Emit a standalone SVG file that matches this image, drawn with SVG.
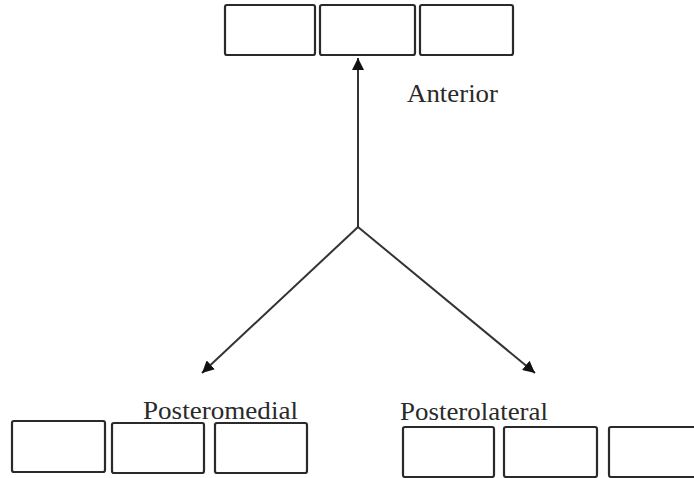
<svg xmlns="http://www.w3.org/2000/svg" width="694" height="478" viewBox="0 0 694 478">
<style>
.box{fill:#fff;stroke:#2a2a2a;stroke-width:2.2}
.lbl{font-family:"Liberation Serif","Times New Roman",serif;font-size:26px;fill:#2a2a2a}
.conn{stroke:#333;stroke-width:2;fill:none}
</style>
<defs>
<marker id="ah" viewBox="0 0 10 10" refX="10" refY="5" markerWidth="6" markerHeight="6" orient="auto" markerUnits="strokeWidth">
<path d="M0,0 L10,5 L0,10 z" fill="#111"/>
</marker>
</defs>
<rect width="694" height="478" fill="#fff"/>
<g id="anterior">
<rect class="box" x="225" y="5" width="90" height="50" rx="2"/>
<rect class="box" x="320" y="5" width="95" height="50" rx="2"/>
<rect class="box" x="420" y="5" width="93" height="50" rx="2"/>
<text class="lbl" x="407" y="102" textLength="91" lengthAdjust="spacingAndGlyphs">Anterior</text>
</g>
<g id="posteromedial">
<rect class="box" x="12" y="421" width="93" height="51" rx="2"/>
<rect class="box" x="112" y="423" width="92" height="50" rx="2"/>
<rect class="box" x="215" y="423" width="92" height="50" rx="2"/>
<text class="lbl" x="143" y="419" textLength="155" lengthAdjust="spacingAndGlyphs">Posteromedial</text>
</g>
<g id="posterolateral">
<rect class="box" x="403" y="427" width="91" height="50" rx="2"/>
<rect class="box" x="504" y="427" width="93" height="50" rx="2"/>
<rect class="box" x="609" y="427" width="93" height="50" rx="2"/>
<text class="lbl" x="400" y="420" textLength="148" lengthAdjust="spacingAndGlyphs">Posterolateral</text>
</g>
<g id="connectors">
<line class="conn" x1="358" y1="227" x2="358" y2="58" marker-end="url(#ah)"/>
<line class="conn" x1="358" y1="227" x2="202" y2="373" marker-end="url(#ah)"/>
<line class="conn" x1="358" y1="227" x2="535" y2="373" marker-end="url(#ah)"/>
</g>
</svg>
